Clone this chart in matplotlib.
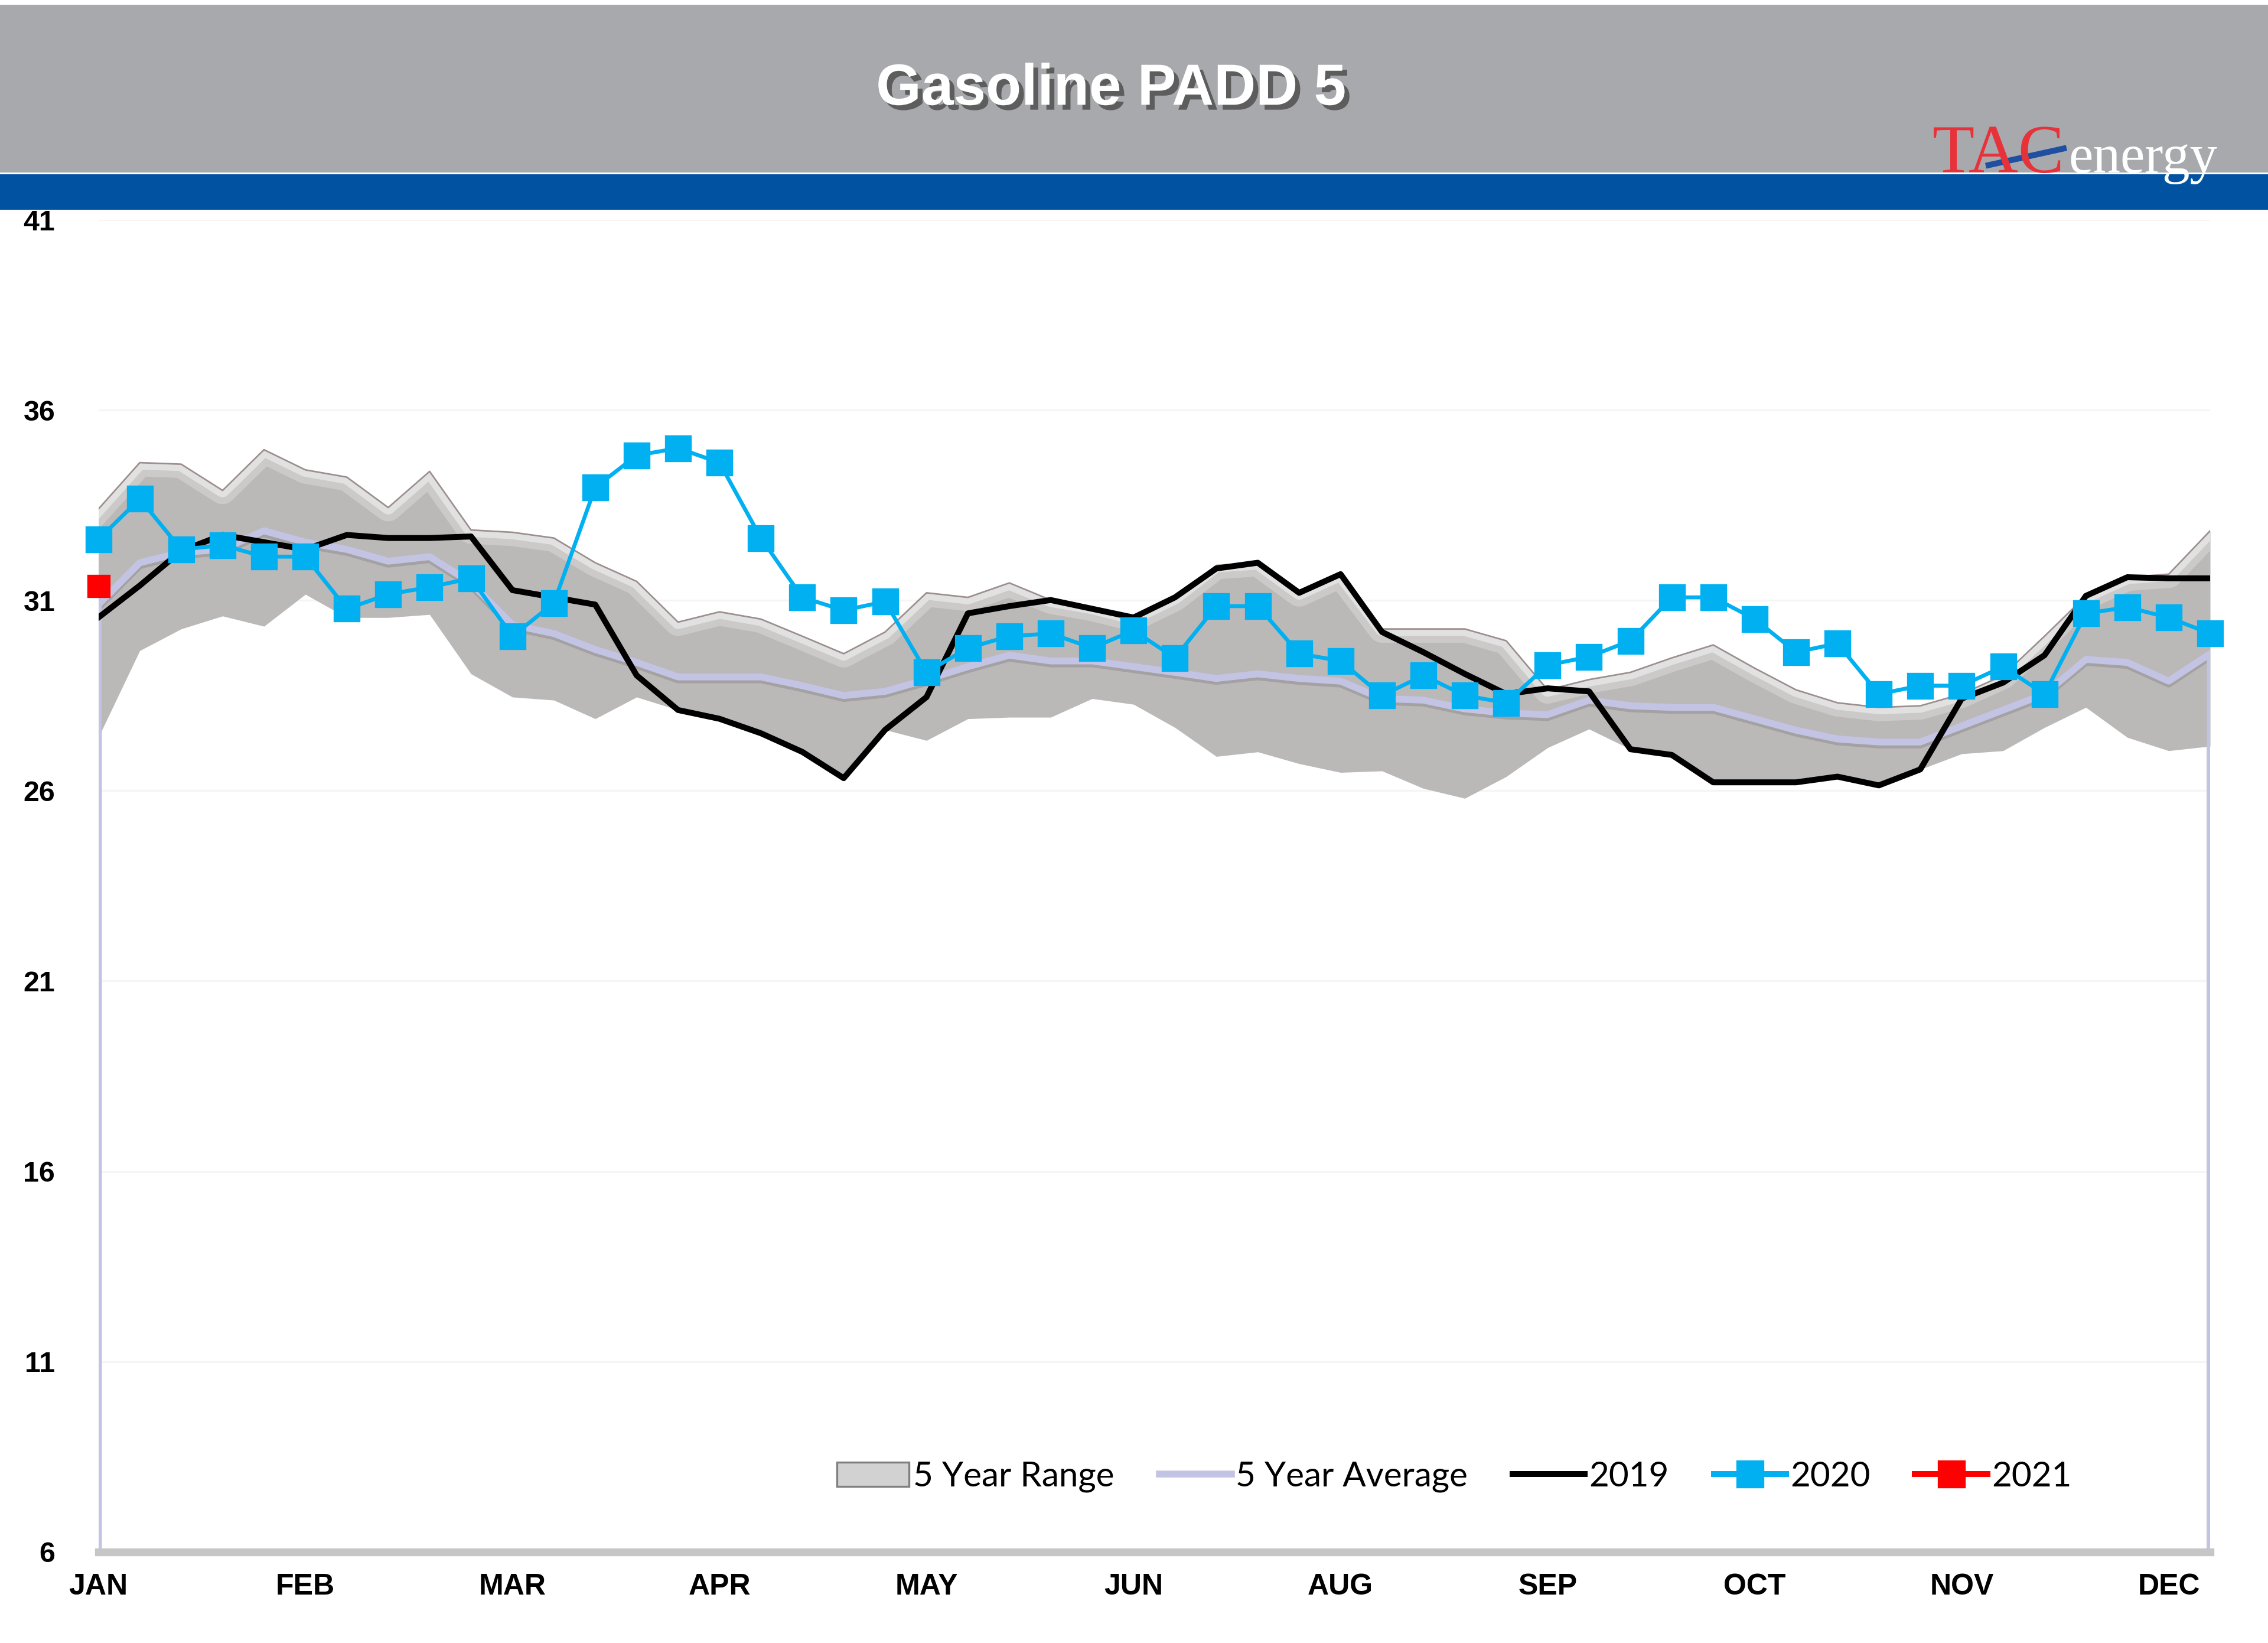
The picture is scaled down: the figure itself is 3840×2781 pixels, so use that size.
import matplotlib
matplotlib.use('Agg')
import matplotlib.pyplot as plt
import matplotlib.patheffects as pe
from matplotlib.patches import Rectangle, Patch
from matplotlib.lines import Line2D

# chart data (weekly, 52 weeks)
weeks = list(range(52))
month_pos = [0, 5, 10, 15, 20, 25, 30, 35, 40, 45, 50]
month_labels = ['JAN', 'FEB', 'MAR', 'APR', 'MAY', 'JUN', 'AUG', 'SEP', 'OCT', 'NOV', 'DEC']
yticks = [6, 11, 16, 21, 26, 31, 36, 41]
ymin, ymax = 6, 41

range_high = [33.40, 34.62, 34.58, 33.89, 34.96, 34.43, 34.24, 33.44, 34.39, 32.85,
              32.79, 32.64, 31.99, 31.50, 30.43, 30.70, 30.51, 30.06, 29.60, 30.17,
              31.20, 31.08, 31.46, 31.01, 30.82, 30.55, 31.08, 31.92, 31.99, 31.20,
              31.69, 30.25, 30.25, 30.25, 29.94, 28.65, 28.92, 29.11, 29.49, 29.83,
              29.22, 28.65, 28.31, 28.19, 28.23, 28.54, 29.03, 30.06, 31.12, 31.61,
              31.69, 32.83]
range_low = [27.40, 29.68, 30.25, 30.59, 30.32, 31.16, 30.55, 30.55, 30.63, 29.07,
             28.46, 28.38, 27.89, 28.46, 28.12, 27.89, 27.51, 27.02, 26.33, 27.60,
             27.32, 27.89, 27.93, 27.93, 28.42, 28.27, 27.66, 26.90, 27.02, 26.71,
             26.48, 26.52, 26.06, 25.80, 26.37, 27.13, 27.62, 27.09, 26.94, 26.22,
             26.22, 26.22, 26.37, 26.14, 26.56, 26.97, 27.05, 27.66, 28.19, 27.40,
             27.05, 27.17]
avg_5yr = [30.89, 31.99, 32.26, 32.34, 32.83, 32.53, 32.34, 32.03, 32.15, 31.46,
           30.36, 30.13, 29.71, 29.37, 28.99, 28.99, 28.99, 28.76, 28.50, 28.61,
           28.92, 29.26, 29.56, 29.41, 29.41, 29.26, 29.11, 28.95, 29.07, 28.95,
           28.88, 28.42, 28.38, 28.15, 28.04, 28.00, 28.38, 28.23, 28.19, 28.19,
           27.89, 27.59, 27.36, 27.28, 27.28, 27.70, 28.12, 28.54, 29.45, 29.37,
           28.88, 29.60]
y2019 = [30.55, 31.39, 32.30, 32.72, 32.53, 32.34, 32.72, 32.64, 32.64, 32.68,
         31.27, 31.08, 30.89, 29.03, 28.12, 27.89, 27.51, 27.02, 26.33, 27.60,
         28.46, 30.66, 30.85, 31.01, 30.78, 30.55, 31.08, 31.84, 31.99, 31.20,
         31.69, 30.17, 29.64, 29.07, 28.54, 28.69, 28.61, 27.09, 26.94, 26.22,
         26.22, 26.22, 26.37, 26.14, 26.56, 28.42, 28.84, 29.56, 31.12, 31.61,
         31.58, 31.58]
y2020 = [32.60, 33.67, 32.34, 32.45, 32.15, 32.15, 30.78, 31.16, 31.35, 31.58,
         30.06, 30.93, 33.97, 34.81, 35.00, 34.62, 32.64, 31.08, 30.74, 30.97,
         29.11, 29.75, 30.06, 30.13, 29.75, 30.21, 29.49, 30.85, 30.85, 29.60,
         29.41, 28.50, 29.03, 28.50, 28.31, 29.30, 29.52, 29.94, 31.08, 31.08,
         30.51, 29.64, 29.87, 28.54, 28.76, 28.76, 29.26, 28.54, 30.66, 30.82,
         30.55, 30.13]
weeks_2021 = [0]
y2021 = [31.38]

fig = plt.figure(figsize=(16, 11.5875), dpi=240)
fig.patch.set_facecolor('white')

# header bands
fig.patches.append(Rectangle((0, 0.8950), 1, 0.1021, transform=fig.transFigure,
                             facecolor='#a8a9ac', edgecolor='none', zorder=0))
fig.patches.append(Rectangle((0, 0.8722), 1, 0.0218, transform=fig.transFigure,
                             facecolor='#0153a2', edgecolor='none', zorder=0))
fig.text(0.49, 0.9454, 'Gasoline PADD 5', ha='center', va='center', color='white',
         fontsize=29.5, fontweight='bold', family='Liberation Sans',
         path_effects=[pe.SimplePatchShadow(offset=(2.5, -2.5), shadow_rgbFace='#4a4a4a', alpha=0.8),
                       pe.Normal()])
fig.text(0.852, 0.8950, 'TAC', ha='left', va='baseline', color='#e8323a',
         fontsize=35, family='Liberation Serif')
fig.text(0.912, 0.8950, 'energy', ha='left', va='baseline', color='white',
         fontsize=28, family='Liberation Serif')
fig.lines.append(Line2D([0.8768, 0.9099], [0.8995, 0.9096], transform=fig.transFigure,
                        color='#1f4fa0', lw=3))

ax = fig.add_axes([0.04337, 0.05546, 0.93112, 0.81074])

# 5 year range with a light bevel under the top edge
band = ax.fill_between(weeks, range_low, range_high, color='#bbb8b8', lw=0, zorder=1)
clip = band.get_paths()[0]
for lw, a in [(14, 0.25), (7, 0.45)]:
    glow, = ax.plot(weeks, range_high, color='white', lw=lw, alpha=a, zorder=1.1)
    glow.set_clip_path(clip, transform=ax.transData)
ax.plot(weeks, range_high, color='#9c8e8e', lw=0.8, zorder=1.2)

# 5 year average, dropping to the axis at both ends
avg_x = [weeks[0]] + weeks + [weeks[-1]]
avg_y = [ymin] + avg_5yr + [ymin]
ax.plot(avg_x, avg_y, color='#c3c3e4', lw=3.5, zorder=2,
        path_effects=[pe.SimpleLineShadow(offset=(0, -1.5), shadow_color='#777777', alpha=0.35),
                      pe.Normal()])

ax.plot(weeks, y2019, color='black', lw=3, zorder=3)
ax.plot(weeks, y2020, color='#00b0f0', lw=2, marker='s', markersize=12.5, zorder=4, clip_on=False)
ax.plot(weeks_2021, y2021, color='#ff0000', lw=2, marker='s', markersize=11, zorder=5, clip_on=False)

ax.set_xlim(0, 51)
ax.set_ylim(ymin, ymax)
ax.set_yticks(yticks)
ax.set_yticklabels([str(t) for t in yticks])
ax.set_xticks(month_pos)
ax.set_xticklabels(month_labels)
ax.tick_params(axis='y', length=0, pad=22, labelsize=14.5)
ax.tick_params(axis='x', length=0, pad=11, labelsize=15)
for lab in ax.get_xticklabels() + ax.get_yticklabels():
    lab.set_fontweight('bold')
    lab.set_family('Liberation Sans')
ax.grid(axis='y', color='#f5f5f5', lw=1)
ax.set_axisbelow(True)
for s in ['top', 'left', 'right']:
    ax.spines[s].set_visible(False)
ax.spines['bottom'].set_color('#c6c6c6')
ax.spines['bottom'].set_linewidth(4)

handles = [Patch(facecolor='#d2d2d2', edgecolor='#808080', lw=1),
           Line2D([], [], color='#c3c3e4', lw=3.5),
           Line2D([], [], color='black', lw=3),
           Line2D([], [], color='#00b0f0', lw=3, marker='s', markersize=13),
           Line2D([], [], color='#ff0000', lw=3, marker='s', markersize=13)]
labels = ['5 Year Range', '5 Year Average', '2019', '2020', '2021']
ax.legend(handles, labels, loc='center', bbox_to_anchor=(0.642, 0.0565), ncol=5,
          frameon=False, handlelength=2.1, handletextpad=0.12, columnspacing=1.3,
          prop={'family': 'Lato', 'size': 17.5})

fig.savefig('out.png', dpi=240, facecolor='white')
